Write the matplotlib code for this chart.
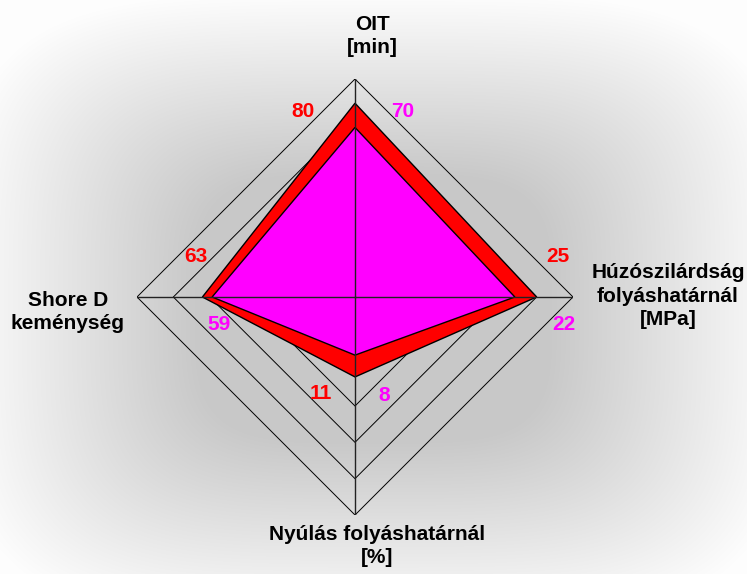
import matplotlib
matplotlib.use('Agg')
import matplotlib.pyplot as plt
import numpy as np

# adatok
categories = ['OIT\n[min]', 'Húzószilárdság\nfolyáshatárnál\n[MPa]',
              'Nyúlás folyáshatárnál\n[%]', 'Shore D\nkeménység']
axis_max = [90, 30, 30, 90]
red_vals = [80, 25, 11, 63]
mag_vals = [70, 22, 8, 59]
n_rings = 6

W, H = 747, 574
plt.rcParams['font.family'] = ['Liberation Sans', 'DejaVu Sans']
plt.rcParams['font.weight'] = 'bold'

fig = plt.figure(figsize=(W / 100, H / 100), dpi=100)

# háttér (lekerekített téglalap alakú színátmenet)
yy, xx = np.mgrid[0:H, 0:W]
tx = np.abs(xx - 373) / 415
ty = np.abs(yy - 308) / 314
t = (tx ** 4 + ty ** 4) ** 0.25
gray = np.interp(t, [0, 0.42, 1.0], [200, 200, 253]) / 255
ax_bg = fig.add_axes([0, 0, 1, 1])
ax_bg.imshow(np.dstack([gray, gray, gray]), extent=(0, W, H, 0), aspect='auto')
ax_bg.axis('off')

# radar tengely
cx, cy, R = 355, 297, 218
ax = fig.add_axes([(cx - R) / W, (H - cy - R) / H, 2 * R / W, 2 * R / H])
ax.set_xlim(-1, 1)
ax.set_ylim(-1, 1)
ax.axis('off')
ax.patch.set_alpha(0)

ang = np.radians([90, 0, -90, 180])
ux, uy = np.cos(ang), np.sin(ang)

for k in range(1, n_rings + 1):
    r = k / n_rings
    ax.plot(np.append(ux, ux[0]) * r, np.append(uy, uy[0]) * r,
            color='black', lw=0.7, zorder=1)


def poly(vals):
    f = np.array(vals) / np.array(axis_max)
    return ux * f, uy * f


rx, ry = poly(red_vals)
mx, my = poly(mag_vals)
ax.fill(rx, ry, facecolor='#FF0000', edgecolor='black', lw=1.0, zorder=2)
ax.fill(mx, my, facecolor='#FF00FF', edgecolor='black', lw=1.0, zorder=3)

for i in range(4):
    ax.plot([0, ux[i]], [0, uy[i]], color='#222222', lw=1.0, zorder=4)

red_off = [(-52, -8), (21, 41), (-34, -17), (-7, 41)]
mag_off = [(48, 16), (49, -28), (29, -40), (7, -28)]
for i in range(4):
    ax.annotate(str(red_vals[i]), (rx[i], ry[i]), xytext=red_off[i],
                textcoords='offset pixels', ha='center', va='center',
                color='#FF0000', fontsize=15, fontweight='bold', zorder=5)
    ax.annotate(str(mag_vals[i]), (mx[i], my[i]), xytext=mag_off[i],
                textcoords='offset pixels', ha='center', va='center',
                color='#FF00FF', fontsize=15, fontweight='bold', zorder=5)

label_pos = [(372, 36), (668, 296), (377, 546), (68, 312)]
for lab, (px, py) in zip(categories, label_pos):
    fig.text(px / W, 1 - py / H, lab, ha='center', va='center',
             multialignment='center', fontsize=15, fontweight='bold',
             color='black', linespacing=1.3)

fig.savefig('out.png', dpi=100)
